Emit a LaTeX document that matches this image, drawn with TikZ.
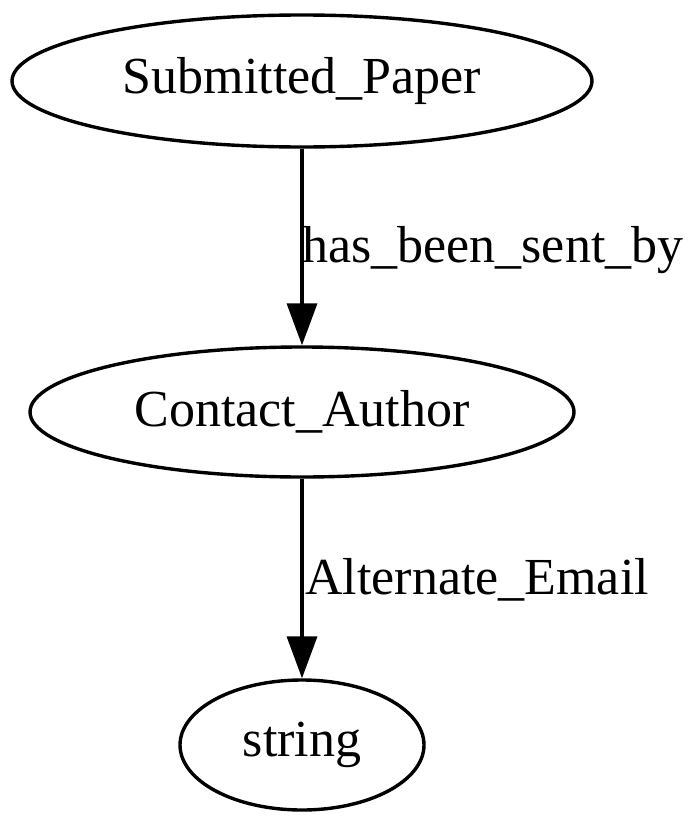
\documentclass[tikz,border=0pt]{standalone}
\usepackage{fontspec}
\setmainfont{Liberation Serif}
\usetikzlibrary{arrows.meta,shapes.geometric}
\begin{document}
\begin{tikzpicture}[x=1pt,y=1pt,
  st/.style={ellipse,draw,line width=3.4pt,inner sep=0pt,font=\fontsize{52}{62}\selectfont},
  edge/.style={line width=3.6pt,-{Triangle[length=42pt,width=30pt]}},
  lab/.style={font=\fontsize{52}{62}\selectfont,anchor=west,inner sep=0pt}]
\useasboundingbox (0,0) rectangle (700,-827);
\node[st,minimum width=580pt,minimum height=132pt] (sp) at (302,-81) {Submitted\_Paper};
\node[st,minimum width=544pt,minimum height=130pt] (ca) at (302,-412) {Contact\_Author};
\node[st,minimum width=244pt,minimum height=130pt] (s) at (302,-745) {string};
\draw[edge] (sp) -- (ca);
\node[lab] (l1) at (302,-250) {has\_been\_sent\_by};
\draw[edge] (ca) -- (s);
\node[lab] (l2) at (305,-580) {Alternate\_Email};
\end{tikzpicture}
\end{document}
